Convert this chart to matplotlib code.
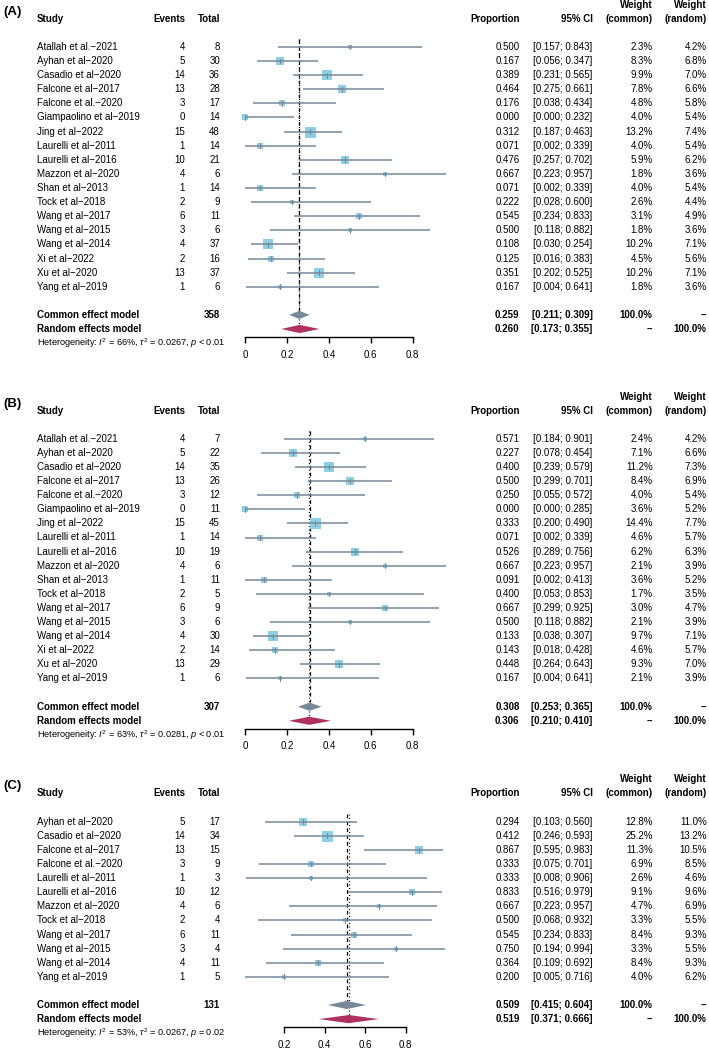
import matplotlib
matplotlib.use('Agg')
import matplotlib.pyplot as plt
from matplotlib.patches import Polygon
from matplotlib.transforms import blended_transform_factory
import numpy as np

plt.rcParams['font.family'] = ['Liberation Sans', 'DejaVu Sans']
plt.rcParams['mathtext.fontset'] = 'custom'
plt.rcParams['mathtext.rm'] = 'Liberation Sans'
plt.rcParams['mathtext.it'] = 'Liberation Sans:italic'
plt.rcParams['mathtext.bf'] = 'Liberation Sans:bold'

W, H, DPI = 709, 1049, 100

# ---------------- Panel A ----------------
studies_a = ["Atallah et al.−2021", "Ayhan et al−2020", "Casadio et al−2020", "Falcone et al−2017",
             "Falcone et al.−2020", "Giampaolino et al−2019", "Jing et al−2022", "Laurelli et al−2011",
             "Laurelli et al−2016", "Mazzon et al−2020", "Shan et al−2013", "Tock et al−2018",
             "Wang et al−2017", "Wang et al−2015", "Wang et al−2014", "Xi et al−2022",
             "Xu et al−2020", "Yang et al−2019"]
events_a = [4, 5, 14, 13, 3, 0, 15, 1, 10, 4, 1, 2, 6, 3, 4, 2, 13, 1]
total_a = [8, 30, 36, 28, 17, 14, 48, 14, 21, 6, 14, 9, 11, 6, 37, 16, 37, 6]
prop_a = [0.500, 0.167, 0.389, 0.464, 0.176, 0.000, 0.312, 0.071, 0.476, 0.667, 0.071, 0.222,
          0.545, 0.500, 0.108, 0.125, 0.351, 0.167]
lower_a = [0.157, 0.056, 0.231, 0.275, 0.038, 0.000, 0.187, 0.002, 0.257, 0.223, 0.002, 0.028,
           0.234, 0.118, 0.030, 0.016, 0.202, 0.004]
upper_a = [0.843, 0.347, 0.565, 0.661, 0.434, 0.232, 0.463, 0.339, 0.702, 0.957, 0.339, 0.600,
           0.833, 0.882, 0.254, 0.383, 0.525, 0.641]
wcommon_a = [2.3, 8.3, 9.9, 7.8, 4.8, 4.0, 13.2, 4.0, 5.9, 1.8, 4.0, 2.6, 3.1, 1.8, 10.2, 4.5, 10.2, 1.8]
wrandom_a = [4.2, 6.8, 7.0, 6.6, 5.8, 5.4, 7.4, 5.4, 6.2, 3.6, 5.4, 4.4, 4.9, 3.6, 7.1, 5.6, 7.1, 3.6]
common_a = [0.259, 0.211, 0.309]
random_a = [0.260, 0.173, 0.355]
ntotal_a = 358
het_a = ["66%", "0.0267", "< 0.01"]
ticks_a = [0, 0.2, 0.4, 0.6, 0.8]

# ---------------- Panel B ----------------
studies_b = list(studies_a)
events_b = [4, 5, 14, 13, 3, 0, 15, 1, 10, 4, 1, 2, 6, 3, 4, 2, 13, 1]
total_b = [7, 22, 35, 26, 12, 11, 45, 14, 19, 6, 11, 5, 9, 6, 30, 14, 29, 6]
prop_b = [0.571, 0.227, 0.400, 0.500, 0.250, 0.000, 0.333, 0.071, 0.526, 0.667, 0.091, 0.400,
          0.667, 0.500, 0.133, 0.143, 0.448, 0.167]
lower_b = [0.184, 0.078, 0.239, 0.299, 0.055, 0.000, 0.200, 0.002, 0.289, 0.223, 0.002, 0.053,
           0.299, 0.118, 0.038, 0.018, 0.264, 0.004]
upper_b = [0.901, 0.454, 0.579, 0.701, 0.572, 0.285, 0.490, 0.339, 0.756, 0.957, 0.413, 0.853,
           0.925, 0.882, 0.307, 0.428, 0.643, 0.641]
wcommon_b = [2.4, 7.1, 11.2, 8.4, 4.0, 3.6, 14.4, 4.6, 6.2, 2.1, 3.6, 1.7, 3.0, 2.1, 9.7, 4.6, 9.3, 2.1]
wrandom_b = [4.2, 6.6, 7.3, 6.9, 5.4, 5.2, 7.7, 5.7, 6.3, 3.9, 5.2, 3.5, 4.7, 3.9, 7.1, 5.7, 7.0, 3.9]
common_b = [0.308, 0.253, 0.365]
random_b = [0.306, 0.210, 0.410]
ntotal_b = 307
het_b = ["63%", "0.0281", "< 0.01"]
ticks_b = [0, 0.2, 0.4, 0.6, 0.8]

# ---------------- Panel C ----------------
studies_c = ["Ayhan et al−2020", "Casadio et al−2020", "Falcone et al−2017", "Falcone et al.−2020",
             "Laurelli et al−2011", "Laurelli et al−2016", "Mazzon et al−2020", "Tock et al−2018",
             "Wang et al−2017", "Wang et al−2015", "Wang et al−2014", "Yang et al−2019"]
events_c = [5, 14, 13, 3, 1, 10, 4, 2, 6, 3, 4, 1]
total_c = [17, 34, 15, 9, 3, 12, 6, 4, 11, 4, 11, 5]
prop_c = [0.294, 0.412, 0.867, 0.333, 0.333, 0.833, 0.667, 0.500, 0.545, 0.750, 0.364, 0.200]
lower_c = [0.103, 0.246, 0.595, 0.075, 0.008, 0.516, 0.223, 0.068, 0.234, 0.194, 0.109, 0.005]
upper_c = [0.560, 0.593, 0.983, 0.701, 0.906, 0.979, 0.957, 0.932, 0.833, 0.994, 0.692, 0.716]
wcommon_c = [12.8, 25.2, 11.3, 6.9, 2.6, 9.1, 4.7, 3.3, 8.4, 3.3, 8.4, 4.0]
wrandom_c = [11.0, 13.2, 10.5, 8.5, 4.6, 9.6, 6.9, 5.5, 9.3, 5.5, 9.3, 6.2]
common_c = [0.509, 0.415, 0.604]
random_c = [0.519, 0.371, 0.666]
ntotal_c = 131
het_c = ["53%", "0.0267", "= 0.02"]
ticks_c = [0.2, 0.4, 0.6, 0.8]

LINE_COL = '#778899'
SQ_COL = '#8ECFE3'
COMMON_COL = '#778899'
RANDOM_COL = '#B03060'
FS = 7.0
S = 14.1  # row spacing in px

fig = plt.figure(figsize=(W / DPI, H / DPI), dpi=DPI)


def panel(label, y0, x0, scale, studies, events, total, prop, lower, upper, wc, wr,
          common, random, ntot, het, ticks):
    n = len(studies)
    axis_row = n + 2.57
    lo = min(lower)
    hi = max(upper)
    left = (x0 + lo * scale) / W
    width = (hi - lo) * scale / W
    top_px = y0 - 1.0 * S
    bot_px = y0 + axis_row * S
    ax = fig.add_axes([left, 1 - bot_px / H, width, (bot_px - top_px) / H])
    ax.set_xlim(lo, hi)
    ax.set_ylim(axis_row, -1.0)
    ax.patch.set_alpha(0)
    for sp in ['top', 'right', 'left']:
        ax.spines[sp].set_visible(False)
    ax.spines['bottom'].set_bounds(ticks[0], ticks[-1])
    ax.spines['bottom'].set_linewidth(1.0)
    ax.set_yticks([])
    ax.set_xticks(ticks)
    ax.set_xticklabels([("0" if t == 0 else f"{t:.1f}") for t in ticks])
    ax.tick_params(axis='x', direction='out', length=4, width=1.0, labelsize=FS, pad=5)

    tr = blended_transform_factory(fig.transFigure, ax.transData)

    def txt(xpx, row, s, ha='right', bold=False, size=FS):
        ax.text(xpx / W, row, s, transform=tr, ha=ha, va='center', fontsize=size,
                fontweight='bold' if bold else 'normal', clip_on=False)

    # headers
    ax.text(3 / W, -2.5, label, transform=tr, ha='left', va='center', fontsize=9.5,
            fontweight='bold', clip_on=False)
    txt(37, -2, "Study", ha='left', bold=True)
    txt(185, -2, "Events", bold=True)
    txt(220, -2, "Total", bold=True)
    txt(519.5, -2, "Proportion", bold=True)
    txt(592.5, -2, "95% CI", bold=True)
    txt(652.7, -3, "Weight", bold=True)
    txt(652.7, -2, "(common)", bold=True)
    txt(706.7, -3, "Weight", bold=True)
    txt(706.7, -2, "(random)", bold=True)

    wmax = max(wc)
    for i in range(n):
        txt(37, i, studies[i], ha='left')
        txt(185, i, str(events[i]))
        txt(220, i, str(total[i]))
        txt(519.5, i, f"{prop[i]:.3f}")
        txt(592.5, i, f"[{lower[i]:.3f}; {upper[i]:.3f}]")
        txt(652.7, i, f"{wc[i]:.1f}%")
        txt(706.7, i, f"{wr[i]:.1f}%")
        side_px = 11.0 * np.sqrt(wc[i] / wmax)
        ax.plot([prop[i]], [i], marker='s', markersize=side_px * 72 / DPI, color=SQ_COL,
                markeredgewidth=0, linestyle='none', clip_on=False, zorder=2)
        ax.plot([lower[i], upper[i]], [i, i], color=LINE_COL, lw=1.1, clip_on=False,
                zorder=3, solid_capstyle='butt')
        ax.plot([prop[i], prop[i]], [i - 0.17, i + 0.17], color=LINE_COL, lw=0.7,
                clip_on=False, zorder=3)

    rc = n + 1
    rr = n + 2
    # reference lines
    ax.plot([common[0], common[0]], [-0.55, rc - 0.3], color='black', lw=0.9,
            dashes=(3.0, 2.5), clip_on=False, zorder=1)
    ax.plot([random[0], random[0]], [-0.55, rr - 0.3], color='black', lw=0.9,
            dashes=(0.8, 2.0), clip_on=False, zorder=1)

    h = 0.29
    ax.add_patch(Polygon([[common[1], rc], [common[0], rc - h], [common[2], rc], [common[0], rc + h]],
                         closed=True, facecolor=COMMON_COL, edgecolor='none', clip_on=False, zorder=4))
    ax.add_patch(Polygon([[random[1], rr], [random[0], rr - h], [random[2], rr], [random[0], rr + h]],
                         closed=True, facecolor=RANDOM_COL, edgecolor='none', clip_on=False, zorder=4))

    txt(37, rc, "Common effect model", ha='left', bold=True)
    txt(220, rc, str(ntot), bold=True)
    txt(519.5, rc, f"{common[0]:.3f}", bold=True)
    txt(592.5, rc, f"[{common[1]:.3f}; {common[2]:.3f}]", bold=True)
    txt(652.7, rc, "100.0%", bold=True)
    txt(706.7, rc, "--", bold=True)

    txt(37, rr, "Random effects model", ha='left', bold=True)
    txt(519.5, rr, f"{random[0]:.3f}", bold=True)
    txt(592.5, rr, f"[{random[1]:.3f}; {random[2]:.3f}]", bold=True)
    txt(652.7, rr, "--", bold=True)
    txt(706.7, rr, "100.0%", bold=True)

    het_s = (r"Heterogeneity: $I^2$ = " + het[0].replace('%', r'%') + r", $\tau^2$ = " + het[1]
             + r", $p$ " + het[2])
    txt(37, n + 3, het_s, ha='left', size=6.6)
    return ax


panel("(A)", 47.0, 245.0, 209.6, studies_a, events_a, total_a, prop_a, lower_a, upper_a,
      wcommon_a, wrandom_a, common_a, random_a, ntotal_a, het_a, ticks_a)
panel("(B)", 438.8, 245.0, 209.6, studies_b, events_b, total_b, prop_b, lower_b, upper_b,
      wcommon_b, wrandom_b, common_b, random_b, ntotal_b, het_b, ticks_b)
panel("(C)", 821.7, 243.9, 202.2, studies_c, events_c, total_c, prop_c, lower_c, upper_c,
      wcommon_c, wrandom_c, common_c, random_c, ntotal_c, het_c, ticks_c)

fig.savefig("out.png", dpi=DPI)
